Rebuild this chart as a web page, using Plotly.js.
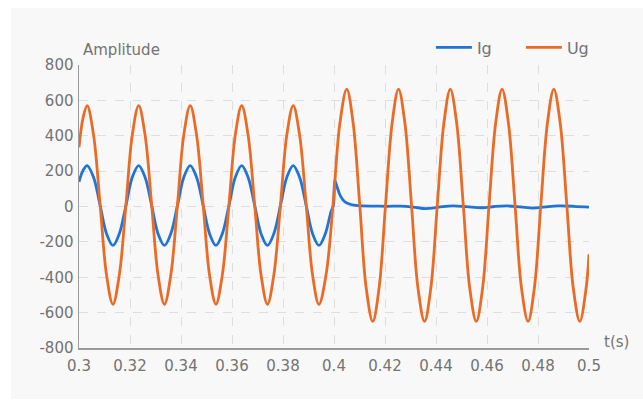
<!DOCTYPE html>
<html>
<head>
<meta charset="utf-8">
<script src="https://cdn.plot.ly/plotly-3.0.1.min.js"></script>
<style>html,body{margin:0;padding:0;background:#fff;}#chart{width:643px;height:400px;}</style>
</head>
<body>
<div id="chart"></div>
<script>
// Ug: grid voltage (time, value)
const ugT = [0.3000, 0.3016, 0.3032, 0.3057, 0.3083, 0.3108, 0.3133, 0.3158, 0.3184, 0.3209,
  0.3234, 0.3259, 0.3285, 0.3310, 0.3335, 0.3360, 0.3386, 0.3411,
  0.3436, 0.3461, 0.3487, 0.3512, 0.3537, 0.3562, 0.3588, 0.3613,
  0.3638, 0.3663, 0.3689, 0.3714, 0.3739, 0.3764, 0.3790, 0.3815,
  0.3840, 0.3865, 0.3891, 0.3916, 0.3941, 0.3969, 0.3996, 0.4023,
  0.4050, 0.4075, 0.4101, 0.4126, 0.4152, 0.4177, 0.4202, 0.4228,
  0.4253, 0.4278, 0.4304, 0.4329, 0.4355, 0.4380, 0.4405, 0.4431,
  0.4456, 0.4481, 0.4507, 0.4532, 0.4558, 0.4583, 0.4608, 0.4634,
  0.4659, 0.4684, 0.4710, 0.4735, 0.4761, 0.4786, 0.4811, 0.4837,
  0.4862, 0.4887, 0.4913, 0.4938, 0.4964, 0.4989, 0.5000];
const ugV = [335, 502, 570, 405, 8, -388, -553, -388, 8, 405,
  570, 405, 8, -388, -553, -388, 8, 405,
  570, 405, 8, -388, -553, -388, 8, 405,
  570, 405, 8, -388, -553, -388, 8, 405,
  570, 405, 8, -388, -553, -385, 5, 470,
  664, 472, 7, -458, -650, -458, 7, 472,
  664, 472, 7, -458, -650, -458, 7, 472,
  664, 472, 7, -458, -650, -458, 7, 472,
  664, 472, 7, -458, -650, -458, 7, 472,
  664, 472, 7, -458, -650, -458, -270];

// Ig: grid current (time, value)
const igT = [0.3000, 0.3016, 0.3032, 0.3057, 0.3083, 0.3108, 0.3133, 0.3158, 0.3184, 0.3209,
  0.3234, 0.3259, 0.3285, 0.3310, 0.3335, 0.3360, 0.3386, 0.3411,
  0.3436, 0.3461, 0.3487, 0.3512, 0.3537, 0.3562, 0.3588, 0.3613,
  0.3638, 0.3663, 0.3689, 0.3714, 0.3739, 0.3764, 0.3790, 0.3815,
  0.3840, 0.3865, 0.3891, 0.3916, 0.3941, 0.3966, 0.3988, 0.3998,
  0.4003, 0.4012, 0.4025, 0.4040, 0.4060, 0.4085, 0.4110, 0.4160,
  0.4210, 0.4260, 0.4310, 0.4360, 0.4410, 0.4465, 0.4520, 0.4580,
  0.4630, 0.4680, 0.4730, 0.4780, 0.4830, 0.4880, 0.4940, 0.5000];
const igV = [140, 204, 231, 165, 5, -154, -220, -154, 5, 165,
  231, 165, 5, -154, -220, -154, 5, 165,
  231, 165, 5, -154, -220, -154, 5, 165,
  231, 165, 5, -154, -220, -154, 5, 165,
  231, 165, 5, -154, -220, -154, -30, 10,
  148, 110, 60, 30, 14, 6, 3, 2,
  1, 2, -3, -12, -4, 4, -1, -7,
  0, 3, -2, -9, -2, 3, 1, -4];

const xTicks = [0.3, 0.32, 0.34, 0.36, 0.38, 0.4, 0.42, 0.44, 0.46, 0.48, 0.5];
const xTickText = ['0.3', '0.32', '0.34', '0.36', '0.38', '0.4', '0.42', '0.44', '0.46', '0.48', '0.5'];
const yTicks = [-800, -600, -400, -200, 0, 200, 400, 600, 800];
const yTickText = ['-800', '-600', '-400', '-200', '0', '200', '400', '600', '800'];

const FONT = 'DejaVu Sans, Verdana, sans-serif';
const TXT = '#737373';

const traces = [
  {x: igT, y: igV, name: 'Ig', type: 'scatter', mode: 'lines',
   line: {color: '#1f74d6', width: 2.8, shape: 'spline', smoothing: 1}},
  {x: ugT, y: ugV, name: 'Ug', type: 'scatter', mode: 'lines',
   line: {color: '#ea6b25', width: 2.8, shape: 'spline', smoothing: 1}}
];

const layout = {
  width: 643, height: 400,
  margin: {l: 79, r: 54, t: 65, b: 52, autoexpand: false},
  paper_bgcolor: '#ffffff',
  plot_bgcolor: 'rgba(0,0,0,0)',
  showlegend: true,
  legend: {orientation: 'h', x: 0.690, xanchor: 'left', y: 1.062, yanchor: 'middle',
           bgcolor: 'rgba(0,0,0,0)', font: {family: FONT, size: 16, color: TXT},
           itemwidth: 36, entrywidth: 39, entrywidthmode: 'pixels', traceorder: 'normal'},
  xaxis: {range: [0.3, 0.5], tickvals: xTicks, ticktext: xTickText,
          showline: true, linecolor: '#9a9a9a', linewidth: 1.5,
          showgrid: true, gridcolor: '#dedede', griddash: 'dash', gridwidth: 1,
          zeroline: false, ticks: '', ticklabelstandoff: 3,
          tickfont: {family: FONT, size: 15, color: TXT}},
  yaxis: {range: [-800, 800], tickvals: yTicks, ticktext: yTickText,
          showline: true, linecolor: '#9a9a9a', linewidth: 1.5,
          showgrid: true, gridcolor: '#dedede', griddash: 'dash', gridwidth: 1,
          zeroline: false, ticks: '', ticklabelstandoff: 1,
          tickfont: {family: FONT, size: 15, color: TXT}},
  shapes: [
    {type: 'rect', xref: 'paper', yref: 'paper', layer: 'below',
     x0: -0.1333, x1: 1.11, y0: -0.18, y1: 1.201,
     fillcolor: '#f8f8f8', line: {width: 0}}
  ],
  annotations: [
    {text: 'Amplitude', xref: 'paper', yref: 'paper', x: 0.004, y: 1.053,
     xanchor: 'left', yanchor: 'middle', showarrow: false,
     font: {family: FONT, size: 15, color: TXT}},
    {text: 't(s)', xref: 'paper', yref: 'paper', x: 1.025, y: 0.02,
     xanchor: 'left', yanchor: 'middle', showarrow: false,
     font: {family: FONT, size: 15, color: TXT}}
  ]
};

Plotly.newPlot('chart', traces, layout, {displayModeBar: false, staticPlot: true});
</script>
</body>
</html>
